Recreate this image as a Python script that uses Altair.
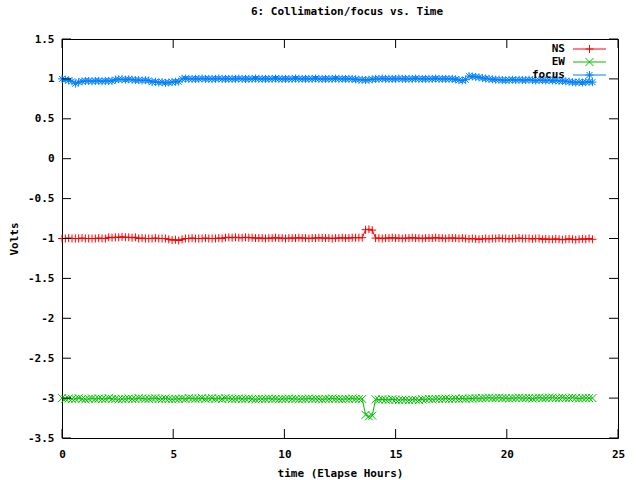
import altair as alt
import pandas as pd

# ---------------- data ----------------
series_names = ["NS", "EW", "focus"]
series_colors = ["#ff0000", "#00c000", "#0080ff"]

hour_step = 0.15  # sampling interval of the readings, hours

focus = [
    1.0, 0.99, 0.98, 0.97, 0.94, 0.96, 0.97, 0.975, 0.975, 0.97,
    0.975, 0.975, 0.97, 0.975, 0.975, 0.975, 0.99, 0.995, 0.995, 0.99,
    0.995, 0.99, 0.985, 0.985, 0.98, 0.985, 0.98, 0.96, 0.965, 0.955,
    0.96, 0.95, 0.955, 0.96, 0.965, 0.965, 1.0, 1.005, 1.0, 1.0,
    1.0, 1.0, 1.005, 1.0, 1.0, 1.0, 1.0, 1.005, 1.0, 1.0,
    1.0, 1.0, 1.0, 1.005, 1.0, 1.0, 1.0, 1.0, 1.005, 1.0,
    1.0, 1.0, 1.0, 1.0, 1.005, 1.0, 1.0, 1.0, 1.0, 1.0,
    1.005, 1.0, 1.0, 1.0, 1.0, 1.0, 1.005, 1.0, 1.0, 1.0,
    1.0, 1.0, 1.005, 1.0, 1.0, 1.0, 1.0, 1.0, 0.995, 0.99,
    0.99, 0.985, 0.99, 0.995, 1.0, 1.0, 1.005, 1.0, 1.0, 1.0,
    1.0, 1.005, 1.0, 1.0, 1.0, 1.0, 1.005, 1.0, 1.0, 1.0,
    1.0, 1.0, 1.005, 1.0, 1.0, 1.0, 1.0, 1.0, 0.995, 0.985,
    0.98, 0.99, 1.035, 1.03, 1.025, 1.02, 1.01, 1.005, 1.0, 0.995,
    0.99, 0.99, 0.985, 0.985, 0.985, 0.99, 0.985, 0.99, 0.985, 0.985,
    0.99, 0.985, 0.98, 0.985, 0.985, 0.98, 0.985, 0.98, 0.98, 0.975,
    0.975, 0.97, 0.965, 0.96, 0.955, 0.96, 0.955, 0.96, 0.965, 0.96,
]

ns = [
    -1.0, -1.0, -0.995, -1.0, -1.0, -1.0, -0.995, -1.0, -1.0, -1.0,
    -1.0, -0.995, -1.0, -1.0, -0.985, -0.99, -0.985, -0.985, -0.98, -0.985,
    -0.985, -0.99, -0.985, -1.0, -0.995, -1.0, -1.0, -1.0, -0.995, -1.0,
    -1.0, -1.0, -1.01, -1.02, -1.015, -1.025, -1.01, -1.0, -1.0, -0.995,
    -1.0, -1.0, -1.0, -0.995, -1.0, -1.0, -1.0, -0.995, -1.0, -0.99,
    -0.985, -0.99, -0.985, -0.99, -0.99, -0.985, -0.99, -0.99, -0.995, -0.995,
    -0.995, -1.0, -0.995, -0.995, -0.99, -0.995, -0.995, -1.0, -0.995, -0.995,
    -0.995, -0.99, -0.995, -0.995, -1.0, -0.995, -0.995, -0.99, -0.995, -0.995,
    -0.995, -1.0, -0.995, -0.995, -0.99, -0.995, -0.995, -0.99, -0.99, -0.99,
    -0.99, -0.89, -0.885, -0.895, -0.995, -0.995, -1.0, -0.995, -0.995, -0.99,
    -0.995, -0.995, -1.0, -0.995, -0.995, -0.99, -0.995, -0.995, -1.0, -0.995,
    -0.995, -0.995, -0.99, -0.995, -0.995, -1.0, -0.995, -0.995, -0.995, -1.0,
    -0.995, -1.0, -1.005, -1.0, -1.005, -1.01, -1.005, -1.0, -1.005, -1.0,
    -1.0, -0.995, -1.0, -1.0, -1.005, -1.0, -1.0, -0.995, -1.0, -1.0,
    -1.0, -1.005, -1.0, -1.0, -1.01, -1.005, -1.01, -1.01, -1.005, -1.01,
    -1.015, -1.01, -1.005, -1.01, -1.015, -1.01, -1.005, -1.01, -1.0, -1.01,
]

ew = [
    -3.0, -3.01, -3.005, -3.01, -3.01, -3.0, -3.01, -3.015, -3.01, -3.005,
    -3.01, -3.005, -3.01, -3.01, -3.0, -3.01, -3.01, -3.015, -3.01, -3.01,
    -3.005, -3.01, -3.01, -3.0, -3.005, -3.01, -3.01, -3.005, -3.0, -3.01,
    -3.01, -3.005, -3.01, -3.015, -3.01, -3.01, -3.005, -3.01, -3.0, -3.005,
    -3.01, -3.005, -3.0, -3.01, -3.005, -3.0, -3.01, -3.005, -3.01, -3.0,
    -3.005, -3.01, -3.01, -3.005, -3.01, -3.01, -3.005, -3.01, -3.015, -3.01,
    -3.01, -3.01, -3.005, -3.01, -3.01, -3.015, -3.01, -3.01, -3.005, -3.01,
    -3.01, -3.015, -3.01, -3.01, -3.005, -3.01, -3.01, -3.01, -3.015, -3.01,
    -3.01, -3.005, -3.01, -3.01, -3.015, -3.01, -3.01, -3.005, -3.01, -3.01,
    -3.01, -3.21, -3.23, -3.22, -3.015, -3.02, -3.015, -3.02, -3.02, -3.015,
    -3.02, -3.025, -3.02, -3.02, -3.025, -3.02, -3.02, -3.025, -3.015, -3.015,
    -3.01, -3.015, -3.01, -3.01, -3.01, -3.005, -3.01, -3.01, -3.005, -3.01,
    -3.005, -3.01, -3.005, -3.005, -3.0, -3.005, -3.0, -3.0, -2.995, -3.0,
    -3.0, -2.995, -3.0, -3.0, -3.005, -3.0, -3.0, -2.995, -3.0, -3.0,
    -3.0, -3.005, -3.0, -2.995, -3.0, -3.0, -2.995, -2.995, -3.0, -3.0,
    -2.995, -3.0, -3.0, -2.995, -3.0, -3.005, -3.0, -3.0, -3.0, -3.0,
]

x_ticks = [0, 5, 10, 15, 20, 25]
y_ticks = [-3.5, -3, -2.5, -2, -1.5, -1, -0.5, 0, 0.5, 1, 1.5]

# ---------------- build table ----------------
rows = []
for name, vals in zip(series_names, [ns, ew, focus]):
    for i, v in enumerate(vals):
        rows.append({"hour": round(i * hour_step, 3), "volts": v, "series": name})
df = pd.DataFrame(rows)

FONT = "DejaVu Sans Mono"
W, H = 556, 399
MSIZE = 64

plus_path = "M-1,0L1,0M0,-1L0,1"
x_path = "M-1,-1L1,1M-1,1L1,-1"
star_path = "M-1,0L1,0M0,-1L0,1M-0.75,-0.75L0.75,0.75M-0.75,0.75L0.75,-0.75"
series_paths = [plus_path, x_path, star_path]

color_scale = alt.Scale(domain=series_names, range=series_colors)
shape_scale = alt.Scale(domain=series_names, range=series_paths)

x_axis = alt.Axis(
    values=x_ticks, title="time (Elapse Hours)", grid=False, domain=False,
    ticks=False, labelPadding=10, titlePadding=8, labelFlush=False,
    labelExpr="'' + datum.value",
)
y_axis = alt.Axis(
    values=y_ticks, title="Volts", grid=False, domain=False,
    ticks=False, labelPadding=8, titlePadding=8, labelFlush=False,
    labelExpr="'' + datum.value",
)
x_scale = alt.Scale(domain=[0, 25], nice=False, zero=False)
y_scale = alt.Scale(domain=[-3.5, 1.5], nice=False, zero=False)

x_enc = alt.X("hour:Q", scale=x_scale, axis=x_axis)
y_enc = alt.Y("volts:Q", scale=y_scale, axis=y_axis)

base = alt.Chart(df)
lines = base.mark_line(strokeWidth=1).encode(
    x=x_enc, y=y_enc,
    color=alt.Color("series:N", scale=color_scale, legend=None),
    detail="series:N",
)
points = base.mark_point(filled=False, size=MSIZE, strokeWidth=1, opacity=1).encode(
    x=x_enc, y=y_enc,
    color=alt.Color("series:N", scale=color_scale, legend=None),
    shape=alt.Shape("series:N", scale=shape_scale, legend=None),
)

# inward tick marks (gnuplot style, mirrored on all four sides)
ydf = pd.DataFrame({"volts": y_ticks})
xdf = pd.DataFrame({"hour": x_ticks})
tick_l = alt.Chart(ydf).mark_rule(color="black").encode(
    y=y_enc, x=alt.value(0), x2=alt.value(9))
tick_r = alt.Chart(ydf).mark_rule(color="black").encode(
    y=y_enc, x=alt.value(W - 9), x2=alt.value(W))
tick_b = alt.Chart(xdf).mark_rule(color="black").encode(
    x=x_enc, y=alt.value(H), y2=alt.value(H - 9))
tick_t = alt.Chart(xdf).mark_rule(color="black").encode(
    x=x_enc, y=alt.value(0), y2=alt.value(9))

# gnuplot-like key (label, then line sample with marker)
one = pd.DataFrame({"k": [0]})
key_layers = []
key_y = [10, 23, 36]
for name, col, path, ky in zip(series_names, series_colors, series_paths, key_y):
    key_layers.append(alt.Chart(one).mark_text(
        align="right", baseline="middle", font=FONT, fontSize=11, fontWeight="bold",
        color="black").encode(x=alt.value(503), y=alt.value(ky), text=alt.value(name)))
    key_layers.append(alt.Chart(one).mark_rule(color=col, strokeWidth=1).encode(
        x=alt.value(511), x2=alt.value(544), y=alt.value(ky)))
    key_layers.append(alt.Chart(one).mark_point(
        filled=False, size=MSIZE, strokeWidth=1, opacity=1, color=col, shape=path).encode(
        x=alt.value(527.5), y=alt.value(ky)))

chart = alt.layer(
    lines, points, tick_l, tick_r, tick_b, tick_t, *key_layers
).properties(
    width=W, height=H,
    background="white",
    title=alt.TitleParams(
        "6: Collimation/focus vs. Time", font=FONT, fontSize=11, fontWeight="bold",
        anchor="middle", offset=16, color="black", dx=7,
    ),
    autosize=alt.AutoSizeParams(type="none"),
    padding={"left": 62, "top": 39, "right": 22, "bottom": 42},
).configure_view(
    stroke="black", strokeWidth=1,
).configure_axis(
    labelFont=FONT, labelFontSize=11, labelColor="black",
    titleFont=FONT, titleFontSize=11, titleColor="black", titleFontWeight="bold",
    labelFontWeight="bold",
)

chart.save("out.html", embed_options={"renderer": "svg", "actions": False})
